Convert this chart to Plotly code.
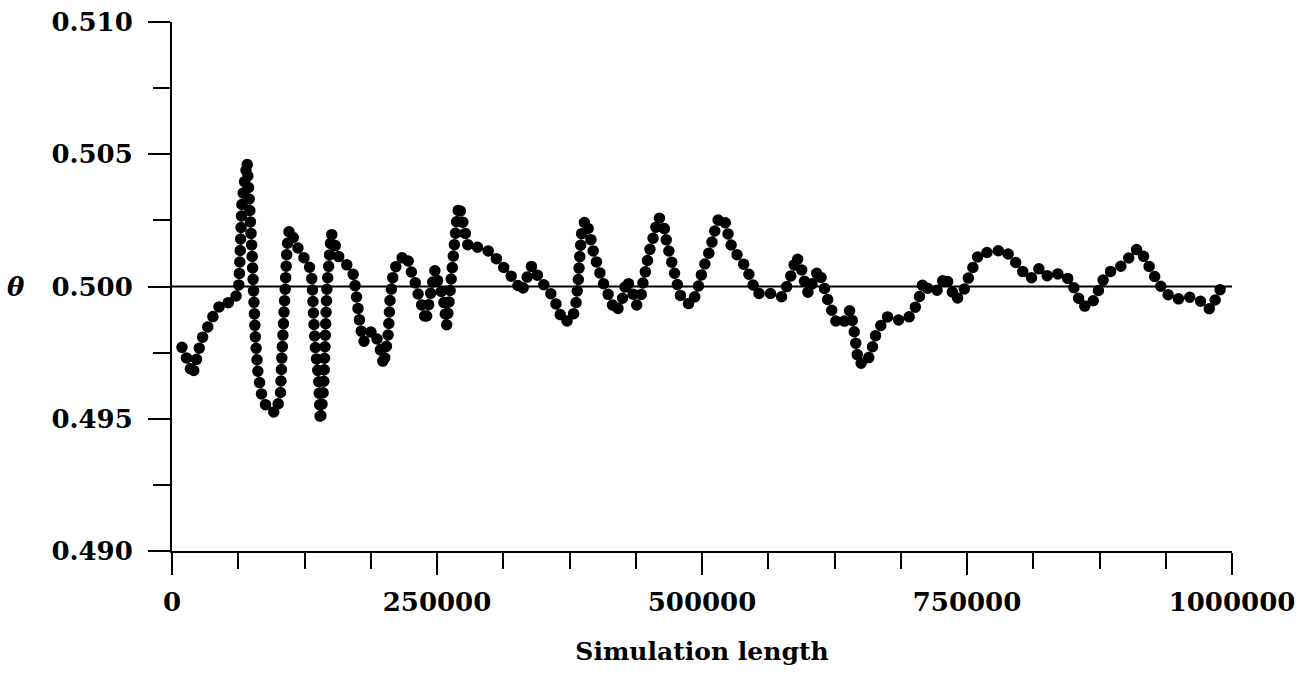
import plotly.graph_objects as go

# Simulation length (x) and estimate of theta (y)
sim_length = [
    9400, 14200, 19500, 25200, 29000, 34600, 40300, 47200, 56600, 61300,
    63200, 66000, 70800, 72900, 75500, 78600, 81100, 84900, 89600, 97500,
    102200, 103800, 106900, 108500, 110700, 116300, 121000, 129000, 132100, 133700,
    135200, 138400, 139900, 143100, 144600, 146200, 149300, 150300, 157300, 165100,
    171400, 174500, 177600, 180800, 188700, 195000, 199700, 204100, 205700, 208800,
    213500, 221400, 224500, 229200, 232400, 237100, 239300, 243400, 248100, 251200,
    255900, 259100, 261800, 264200, 266500, 268600, 270800, 276400, 279500, 291500,
    301600, 309400, 317900, 325200, 329900, 334600, 339300, 345600, 351900, 359700,
    364400, 369200, 377100, 380800, 383300, 384900, 386500, 389600, 394300, 396200,
    399900, 403800, 407800, 413200, 417900, 423600, 428900, 433700, 438400, 443100,
    444600, 447800, 449300, 453100, 455700, 459400, 465100, 466700, 469800, 472900,
    476100, 479200, 488700, 495000, 498100, 501200, 505900, 509100, 512300, 516000,
    521700, 524800, 528000, 534200, 542100, 546900, 551600, 564200, 575200, 581400,
    584600, 589300, 594100, 597200, 600300, 604700, 609700, 614400, 617600, 622300,
    627100, 633300, 639600, 642700, 644300, 645900, 647500, 655300, 660100, 663200,
    667900, 674200, 685200, 694600, 700900, 705700, 708800, 715100, 723000, 729200,
    734000, 739300, 746500, 751200, 755900, 761300, 773300, 785200, 794300, 800900,
    810400, 818200, 826700, 837700, 847200, 853500, 858200, 866000, 872400, 877100,
    884900, 895900, 903800, 911000, 917900, 923600, 929900, 937400, 947800, 958800,
    969800, 979200, 985500, 990800,
]
theta = [
    0.49770, 0.49725, 0.49665, 0.49760, 0.49810, 0.49854, 0.49900, 0.49939, 0.49939, 0.49970,
    0.50010, 0.50315, 0.50472, 0.50327, 0.50127, 0.49810, 0.49673, 0.49583, 0.49541, 0.49522,
    0.49583, 0.49749, 0.50000, 0.50150, 0.50216, 0.50169, 0.50125, 0.50088, 0.50025, 0.49873,
    0.49772, 0.49646, 0.49489, 0.49621, 0.49810, 0.50000, 0.50150, 0.50201, 0.50113, 0.50081,
    0.50043, 0.49949, 0.49848, 0.49791, 0.49833, 0.49791, 0.49703, 0.49823, 0.49949, 0.50050,
    0.50100, 0.50119, 0.50069, 0.50018, 0.49968, 0.49911, 0.49867, 0.49961, 0.50062, 0.50012,
    0.49961, 0.49854, 0.49961, 0.50062, 0.50163, 0.50251, 0.50308, 0.50207, 0.50150, 0.50148,
    0.50128, 0.50088, 0.50050, 0.50012, 0.49980, 0.50031, 0.50078, 0.50037, 0.50000, 0.49961,
    0.49911, 0.49867, 0.49873, 0.49924, 0.50025, 0.50126, 0.50201, 0.50251, 0.50201, 0.50150,
    0.50100, 0.50050, 0.50002, 0.49955, 0.49905, 0.49930, 0.50025, 0.49987, 0.49930, 0.49974,
    0.50025, 0.50075, 0.50119, 0.50170, 0.50214, 0.50262, 0.50214, 0.50163, 0.50119, 0.50069,
    0.50018, 0.49968, 0.49930, 0.49974, 0.50025, 0.50069, 0.50119, 0.50163, 0.50214, 0.50262,
    0.50245, 0.50195, 0.50150, 0.50113, 0.50069, 0.50018, 0.49974, 0.49974, 0.49961, 0.50012,
    0.50050, 0.50113, 0.50062, 0.50012, 0.49974, 0.50020, 0.50062, 0.50012, 0.49961, 0.49911,
    0.49861, 0.49861, 0.49911, 0.49854, 0.49810, 0.49760, 0.49710, 0.49710, 0.49760, 0.49810,
    0.49848, 0.49886, 0.49873, 0.49880, 0.49918, 0.49968, 0.50018, 0.49980, 0.49987, 0.50040,
    0.50000, 0.49949, 0.49980, 0.50031, 0.50075, 0.50123, 0.50132, 0.50138, 0.50100, 0.50062,
    0.50031, 0.50069, 0.50037, 0.50050, 0.50025, 0.49974, 0.49926, 0.49926, 0.49968, 0.50018,
    0.50056, 0.50078, 0.50113, 0.50144, 0.50107, 0.50062, 0.50018, 0.49974, 0.49952, 0.49961,
    0.49946, 0.49914, 0.49959, 0.50006,
]

reference_value = 0.5

x_tick_vals = [0, 250000, 500000, 750000, 1000000]
x_tick_text = ["0", "250000", "500000", "750000", "1000000"]
y_tick_vals = [0.490, 0.495, 0.500, 0.505, 0.510]
y_tick_text = ["0.490", "0.495", "0.500", "0.505", "0.510"]

FONT = "DejaVu Serif"

fig = go.Figure()
fig.add_trace(go.Scatter(
    x=sim_length, y=theta, mode="lines",
    line=dict(color="black", width=11.5, dash="0px,11.5px", simplify=False),
    showlegend=False, hoverinfo="skip",
))

fig.add_shape(type="line", xref="x", yref="y",
              x0=0, x1=1003000, y0=reference_value, y1=reference_value,
              line=dict(color="black", width=2), layer="below")

fig.add_annotation(text="<b><i>θ</i></b>", xref="paper", yref="y",
                   x=-0.147, y=reference_value, showarrow=False,
                   xanchor="center", yanchor="middle",
                   font=dict(family=FONT, size=26, color="black"))

axis_common = dict(
    showgrid=False, zeroline=False, showline=True, linecolor="black", linewidth=2,
    ticks="outside", ticklen=22, tickwidth=2, tickcolor="black", automargin=False,
    tickfont=dict(family=FONT, size=26, color="black", weight="bold"),
)

fig.update_xaxes(
    range=[0, 1000000], tickvals=x_tick_vals, ticktext=x_tick_text,
    minor=dict(ticks="outside", dtick=62500, tick0=0, ticklen=16, tickwidth=2, tickcolor="black"),
    ticklabelstandoff=5,
    title=dict(text="<b>Simulation length</b>", standoff=26,
               font=dict(family=FONT, size=25, color="black")),
    **axis_common,
)
fig.update_yaxes(
    range=[0.490, 0.510], tickvals=y_tick_vals, ticktext=y_tick_text,
    minor=dict(ticks="outside", dtick=0.0025, tick0=0.49, ticklen=17, tickwidth=2, tickcolor="black"),
    ticklabelstandoff=10,
    **axis_common,
)

fig.update_layout(
    width=1303, height=678,
    margin=dict(l=172, r=71, t=22, b=127),
    paper_bgcolor="white", plot_bgcolor="white",
    font=dict(family=FONT, color="black"),
)

round_caps = (
    "document.querySelectorAll('.scatterlayer .js-line').forEach(function(p){"
    "p.style.strokeLinecap='round';});"
)
fig.write_html("out.html", post_script=round_caps)
